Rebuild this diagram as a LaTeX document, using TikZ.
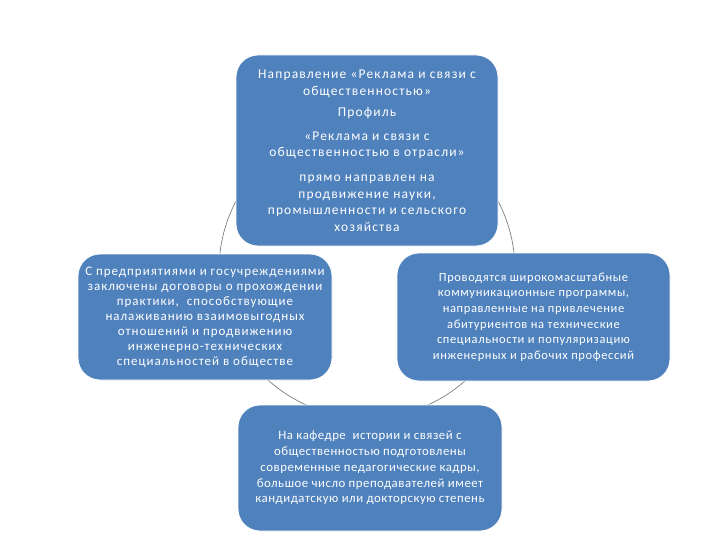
\documentclass[tikz,border=0pt]{standalone}
\usepackage{fontspec}
\setmainfont{Carlito}
\definecolor{boxblue}{HTML}{4F81BD}
\definecolor{ringgray}{HTML}{808080}
\begin{document}
\begin{tikzpicture}[x=1pt,y=-1pt,
  cyclebox/.style={draw=white, line width=0.8pt, fill=boxblue, rounded corners=22pt,
    text=white, align=center, inner sep=0pt},
  ring/.style={draw=ringgray, line width=0.7pt}]
\useasboundingbox (0,0) rectangle (720,540);
\coordinate (c) at (367,270);
\draw[ring] (c) circle[radius=148];
\node[cyclebox, minimum width=262pt, minimum height=191pt,
  font=\fontsize{13.5}{16.5}\selectfont\addfontfeatures{LetterSpace=8.5}] (top) at (367,150.5)
  {Направление «Реклама и связи с\\общественностью»\\[4.5pt]
   Профиль\\[7.5pt]
   «Реклама и связи с\\общественностью в отрасли»\\[8.5pt]
   прямо направлен на\\продвижение науки,\\промышленности и сельского\\хозяйства};
\node[cyclebox, minimum width=254pt, minimum height=126pt,
  font=\fontsize{13}{15}\selectfont\addfontfeatures{LetterSpace=7.5}] (left) at (205,317)
  {С предприятиями и госучреждениями\\заключены договоры о прохождении\\практики,~ способствующие\\налаживанию взаимовыгодных\\отношений и продвижению\\инженерно-технических\\специальностей в обществе};
\node[cyclebox, minimum width=273pt, minimum height=128pt,
  font=\fontsize{12.5}{15.6}\selectfont\addfontfeatures{LetterSpace=5}] (right) at (533.5,317)
  {Проводятся широкомасштабные\\коммуникационные программы,\\направленные на привлечение\\абитуриентов на технические\\специальности и популяризацию\\инженерных и рабочих профессий};
\node[cyclebox, minimum width=264pt, minimum height=126pt,
  font=\fontsize{12.8}{15.8}\selectfont\addfontfeatures{LetterSpace=4}] (bottom) at (370,468)
  {На кафедре~ истории и связей с\\общественностью подготовлены\\современные педагогические кадры,\\большое число преподавателей имеет\\кандидатскую или докторскую степень};
\end{tikzpicture}
\end{document}
